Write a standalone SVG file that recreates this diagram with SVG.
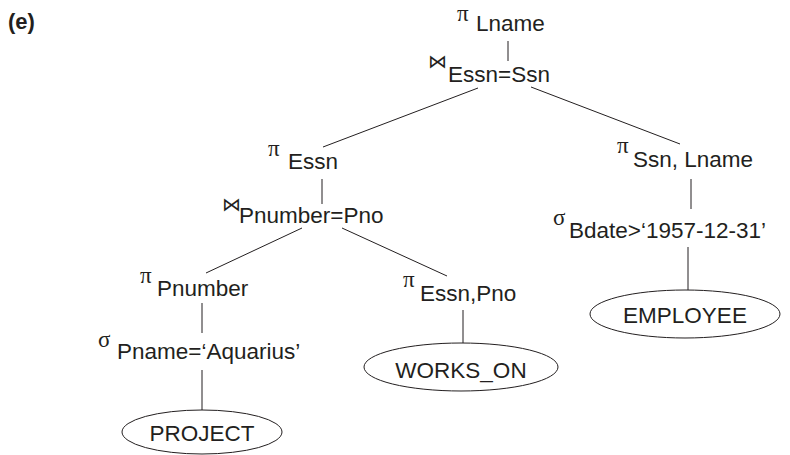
<svg xmlns="http://www.w3.org/2000/svg" width="790" height="455" viewBox="0 0 790 455">
<style>
.t{font-family:"Liberation Sans",Arial,sans-serif;font-size:22.5px;fill:#231f20}
.g{font-family:"Liberation Serif","Times New Roman",serif;font-size:23px;fill:#231f20}
.j{font-family:"DejaVu Sans",sans-serif;font-size:19px;fill:#231f20}
.lbl{font-family:"Liberation Sans",Arial,sans-serif;font-size:22px;font-weight:bold;fill:#231f20}
.e{fill:none;stroke:#231f20;stroke-width:1}
#connectors line{stroke:#231f20;stroke-width:1}
</style>
<rect width="790" height="455" fill="#fff"/>
<text class="lbl" x="8" y="29">(e)</text>
<g id="connectors">
<line x1="508" y1="41" x2="508" y2="61"/>
<line x1="478" y1="88" x2="323" y2="147"/>
<line x1="531" y1="87" x2="680" y2="144"/>
<line x1="322" y1="179" x2="322" y2="204"/>
<line x1="302" y1="228" x2="206" y2="273"/>
<line x1="342" y1="228" x2="447" y2="276"/>
<line x1="202" y1="303" x2="202" y2="333"/>
<line x1="202" y1="370" x2="202" y2="410"/>
<line x1="463" y1="310" x2="463" y2="343"/>
<line x1="691" y1="179" x2="691" y2="209"/>
<line x1="688" y1="247" x2="688" y2="290"/>
</g>
<g id="proj-lname"><text class="g" x="457" y="21">π</text><text class="t" x="476" y="31">Lname</text></g>
<g id="join-essn-ssn"><text class="j" x="428" y="68">⋈</text><text class="t" x="448" y="82">Essn=Ssn</text></g>
<g id="proj-essn"><text class="g" x="268" y="156">π</text><text class="t" x="288" y="169">Essn</text></g>
<g id="join-pnumber-pno"><text class="j" x="222" y="211">⋈</text><text class="t" x="239" y="223">Pnumber=Pno</text></g>
<g id="proj-pnumber"><text class="g" x="140" y="283">π</text><text class="t" x="157" y="296">Pnumber</text></g>
<g id="sel-pname"><text class="g" x="98" y="347">σ</text><text class="t" x="117" y="359">Pname=‘Aquarius’</text></g>
<g id="project"><ellipse class="e" cx="202" cy="432" rx="80" ry="22"/><text class="t" x="202" y="441" text-anchor="middle">PROJECT</text></g>
<g id="proj-essn-pno"><text class="g" x="403" y="287">π</text><text class="t" x="420" y="301">Essn,Pno</text></g>
<g id="works-on"><ellipse class="e" cx="461" cy="367" rx="97" ry="24"/><text class="t" x="461" y="378" text-anchor="middle">WORKS_ON</text></g>
<g id="proj-ssn-lname"><text class="g" x="617" y="153">π</text><text class="t" x="633" y="167">Ssn, Lname</text></g>
<g id="sel-bdate"><text class="g" x="553" y="225">σ</text><text class="t" x="569" y="238">Bdate&gt;‘1957-12-31’</text></g>
<g id="employee"><ellipse class="e" cx="685" cy="314" rx="95" ry="24"/><text class="t" x="685" y="323" text-anchor="middle">EMPLOYEE</text></g>
</svg>
